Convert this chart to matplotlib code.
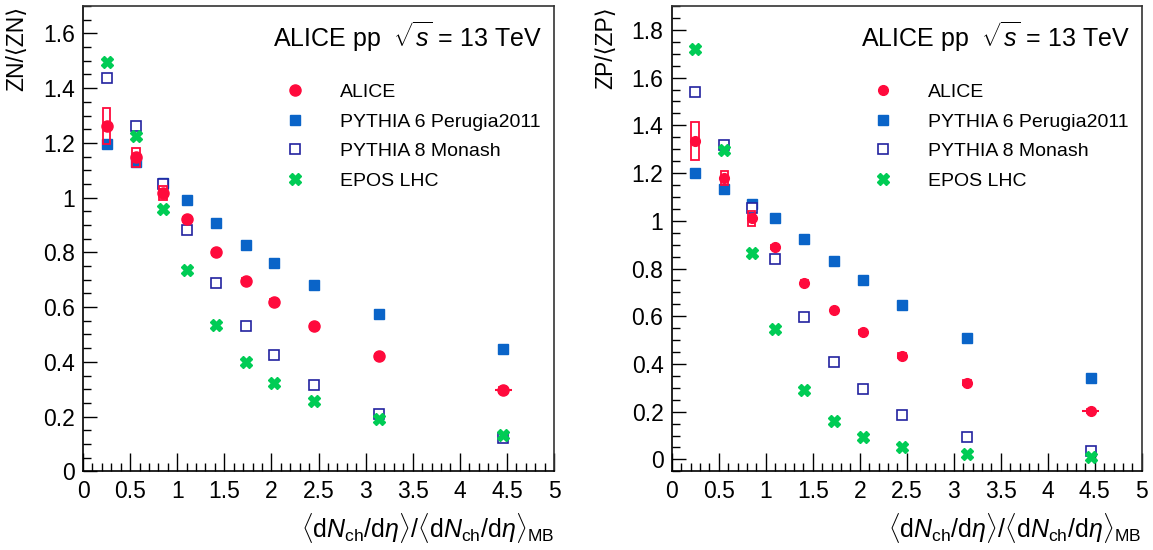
import numpy as np
import matplotlib
matplotlib.use('Agg')
import matplotlib.pyplot as plt
from matplotlib.patches import Rectangle
from matplotlib.lines import Line2D
from matplotlib.ticker import MultipleLocator, FormatStrFormatter

plt.rcParams['font.family'] = ['Liberation Sans', 'DejaVu Sans']
plt.rcParams['mathtext.fontset'] = 'custom'
plt.rcParams['mathtext.rm'] = 'Liberation Sans'
plt.rcParams['mathtext.it'] = 'Liberation Sans:italic'

# multiplicity classes
mult = [0.25, 0.56, 0.85, 1.10, 1.41, 1.73, 2.03, 2.45, 3.14, 4.46]
mult_err = [0.0, 0.0, 0.0, 0.0, 0.0, 0.0, 0.0, 0.0, 0.0, 0.09]

# ZN / <ZN>
zn_alice = [1.263, 1.148, 1.017, 0.921, 0.800, 0.697, 0.620, 0.530, 0.420, 0.297]
zn_sys = [0.066, 0.035, 0.025, 0.010, 0.010, 0.010, 0.010, 0.010, 0.010, 0.010]
zn_py6 = [1.197, 1.130, 1.052, 0.991, 0.907, 0.827, 0.763, 0.680, 0.575, 0.447]
zn_py8 = [1.436, 1.260, 1.051, 0.882, 0.688, 0.532, 0.424, 0.314, 0.210, 0.121]
zn_epos = [1.495, 1.226, 0.957, 0.735, 0.533, 0.401, 0.324, 0.256, 0.190, 0.133]

# ZP / <ZP>
zp_alice = [1.336, 1.179, 1.011, 0.890, 0.740, 0.625, 0.534, 0.434, 0.321, 0.203]
zp_sys = [0.080, 0.030, 0.031, 0.010, 0.010, 0.010, 0.010, 0.010, 0.010, 0.010]
zp_py6 = [1.201, 1.134, 1.071, 1.011, 0.924, 0.830, 0.751, 0.648, 0.509, 0.342]
zp_py8 = [1.540, 1.319, 1.052, 0.838, 0.598, 0.410, 0.296, 0.185, 0.092, 0.036]
zp_epos = [1.720, 1.296, 0.864, 0.547, 0.292, 0.159, 0.096, 0.051, 0.024, 0.010]

red = '#ff0a3c'
blue = '#0a64c8'
navy = '#2222a0'
green = '#00cc55'

xlab = (r'$\langle\mathrm{d}N_{\mathrm{ch}}/\mathrm{d}\eta\rangle/'
        r'\langle\mathrm{d}N_{\mathrm{ch}}/\mathrm{d}\eta\rangle_{\mathrm{MB}}$')

fig = plt.figure(figsize=(11.53, 5.5), dpi=100)
ax1 = fig.add_axes([0.072, 0.143, 0.4085, 0.846])
ax2 = fig.add_axes([0.5826, 0.143, 0.4076, 0.846])


def draw(ax, alice, sys, py6, py8, epos, ylab, ylim, ms):
    h6, = ax.plot(mult, py6, 's', color=blue, ms=6.5, ls='none')
    h8, = ax.plot(mult, py8, 's', mfc='white', mec=navy, mew=1.2, ms=7, ls='none')
    he, = ax.plot(mult, epos, 'X', color=green, ms=9, mec=green, ls='none')
    for x, y, s in zip(mult, alice, sys):
        ax.add_patch(Rectangle((x - 0.04, y - s), 0.08, 2 * s, fill=False, ec=red, lw=1.3, zorder=4))
    ax.errorbar(mult, alice, xerr=mult_err, fmt='o', color=red, ms=ms, elinewidth=1.5,
                capsize=0, zorder=5)
    ha = Line2D([], [], marker='o', color=red, ms=ms, ls='none')

    ax.set_xlim(0, 5)
    ax.set_ylim(*ylim)
    ax.xaxis.set_major_locator(MultipleLocator(0.5))
    ax.xaxis.set_minor_locator(MultipleLocator(0.1))
    ax.yaxis.set_major_locator(MultipleLocator(0.2))
    ax.yaxis.set_minor_locator(MultipleLocator(0.05))
    ax.xaxis.set_major_formatter(FormatStrFormatter('%g'))
    ax.yaxis.set_major_formatter(FormatStrFormatter('%g'))
    ax.tick_params(which='major', direction='in', length=13, width=1, labelsize=16.5, pad=6)
    ax.tick_params(axis='y', which='major', length=10)
    ax.tick_params(which='minor', direction='in', length=6, width=1)
    for sp in ax.spines.values():
        sp.set_linewidth(1.2)
        sp.set_color('#333333')
    ax.spines['bottom'].set_color('black')
    ax.spines['left'].set_color('black')

    ax.set_ylabel(ylab, fontsize=16.5, loc='top')
    ax.yaxis.set_label_coords(-0.117, 1.0)
    ax.set_xlabel(xlab, fontsize=18, loc='right')
    ax.xaxis.set_label_coords(1.0, -0.085)

    ax.text(0.975, 0.935, r'ALICE pp  $\sqrt{s}$ = 13 TeV', transform=ax.transAxes,
            fontsize=18, ha='right', va='center')

    ax.legend([ha, h6, h8, he], ['ALICE', 'PYTHIA 6 Perugia2011', 'PYTHIA 8 Monash', 'EPOS LHC'],
              loc='upper left', bbox_to_anchor=(0.405, 0.855), frameon=False, fontsize=14,
              handletextpad=1.7, labelspacing=0.62, handlelength=1.2, borderpad=0)


draw(ax1, zn_alice, zn_sys, zn_py6, zn_py8, zn_epos, 'ZN/⟨ZN⟩', (0, 1.7), 8)
draw(ax2, zp_alice, zp_sys, zp_py6, zp_py8, zp_epos, 'ZP/⟨ZP⟩', (-0.05, 1.9), 7)

fig.savefig('out.png', dpi=100)
